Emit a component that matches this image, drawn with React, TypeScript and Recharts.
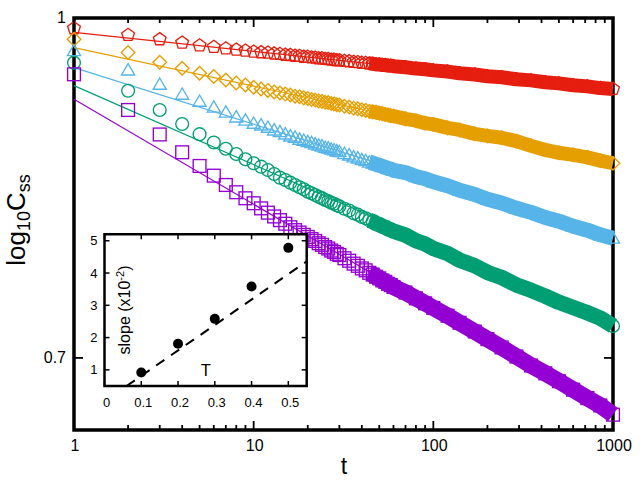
import {
  ComposedChart,
  Line,
  Scatter,
  XAxis,
  YAxis,
  ReferenceArea,
  CartesianGrid,
} from "recharts";

const FONT = '"Liberation Sans", Arial, Helvetica, sans-serif';

// sampling times t
const T = [
  1, 2, 3, 4, 5, 6, 7, 8, 9, 10, 11, 12, 13, 14, 15, 16, 17, 18, 19, 20, 21, 22, 23, 24, 25, 26, 27, 28,
  29, 30, 32, 34, 36, 38, 40, 42, 44, 46, 48, 50, 52, 54, 56, 58, 60, 70, 80, 90, 100, 120, 140, 170, 200,
  240, 290, 350, 420, 500, 600, 720, 850, 1000,
];

// log10 Css for each temperature, one value per entry of T
const LOG_C_T01 = [
  -0.00469, -0.00775, -0.0097, -0.01125, -0.01253, -0.01321, -0.0139, -0.01444, -0.0149, -0.01535,
  -0.01563, -0.01581, -0.01622, -0.0164, -0.01677, -0.0169, -0.01722, -0.01731, -0.01768, -0.01772,
  -0.018, -0.01809, -0.01841, -0.01841, -0.01868, -0.01873, -0.019, -0.019, -0.01927, -0.01927,
  -0.01959, -0.01973, -0.02005, -0.02014, -0.02046, -0.0205, -0.02078, -0.02087, -0.02114, -0.02119,
  -0.02141, -0.02146, -0.02173, -0.02173, -0.02196,
  -0.02246, -0.02305, -0.02337, -0.02387, -0.02442, -0.02519, -0.02574, -0.02652, -0.02702, -0.02793,
  -0.02843, -0.02929, -0.0298, -0.03066, -0.03116, -0.03194, -0.03235,
];
const LOG_C_T02 = [
  -0.0097, -0.01572, -0.02018, -0.02292, -0.0252, -0.02665, -0.02825, -0.02961, -0.03053, -0.03157,
  -0.03235, -0.03299, -0.03367, -0.03417, -0.03467, -0.03508, -0.03563, -0.0359, -0.0364, -0.03668,
  -0.03718, -0.03741, -0.03777, -0.038, -0.03841, -0.03854, -0.039, -0.03914, -0.0395, -0.03964,
  -0.04023, -0.04055, -0.0411, -0.04141, -0.04182, -0.0421, -0.04251, -0.04278, -0.04296, -0.04337,
  -0.04356, -0.04397, -0.04415, -0.04456, -0.04465,
  -0.04597, -0.04679, -0.04793, -0.04848, -0.05007, -0.05103, -0.0528, -0.05372, -0.05458, -0.05613,
  -0.05827, -0.06014, -0.06142, -0.06237, -0.06351, -0.06501, -0.0662,
];
const LOG_C_T03 = [
  -0.0149, -0.02369, -0.03021, -0.03476, -0.03795, -0.04064, -0.04292, -0.0451, -0.04656, -0.04798,
  -0.04875, -0.0498, -0.05103, -0.0518, -0.05285, -0.05376, -0.05435, -0.05526, -0.05572, -0.05636,
  -0.05677, -0.05741, -0.05795, -0.05832, -0.05891, -0.05923, -0.05978, -0.06005, -0.0606, -0.06087,
  -0.06178, -0.06242, -0.06328, -0.06378, -0.06456, -0.06497, -0.06565, -0.06606, -0.06675, -0.06706,
  -0.06766, -0.06798, -0.06861, -0.06889, -0.06939,
  -0.07044, -0.07221, -0.07326, -0.07467, -0.07645, -0.0785, -0.08041, -0.08256, -0.08429, -0.0867,
  -0.08857, -0.09089, -0.09258, -0.0949, -0.09668, -0.09882, -0.10032,
];
const LOG_C_T04 = [
  -0.02037, -0.03317, -0.04192, -0.04829, -0.05294, -0.05672, -0.05959, -0.06196, -0.06438, -0.0662,
  -0.06775, -0.06925, -0.07107, -0.07276, -0.07381, -0.07504, -0.07609, -0.07713, -0.07804, -0.07914,
  -0.07987, -0.08064, -0.08151, -0.0821, -0.08292, -0.08342, -0.0842, -0.08465, -0.08538, -0.08579,
  -0.08693, -0.08775, -0.08893, -0.08962, -0.09066, -0.09126, -0.09221, -0.09276, -0.09363, -0.09413,
  -0.0949, -0.09536, -0.09613, -0.09654, -0.09718,
  -0.09896, -0.10151, -0.10297, -0.10502, -0.10734, -0.11035, -0.1129, -0.11595, -0.11827, -0.12165,
  -0.12411, -0.12675, -0.12957, -0.1319, -0.13431, -0.13677, -0.14033,
];
const LOG_C_T05 = [
  -0.02565, -0.04192, -0.05308, -0.06119, -0.06743, -0.07185, -0.07609, -0.07941, -0.08215, -0.08442,
  -0.08675, -0.08871, -0.09044, -0.09212, -0.09376, -0.09536, -0.09668, -0.09777, -0.09882, -0.09978,
  -0.10078, -0.1016, -0.10265, -0.10338, -0.10438, -0.10506, -0.10597, -0.10661, -0.10748, -0.10802,
  -0.10948, -0.11062, -0.11194, -0.11294, -0.11413, -0.11499, -0.11613, -0.11691, -0.11791, -0.11864,
  -0.1196, -0.12023, -0.12114, -0.12174, -0.12256,
  -0.12511, -0.12775, -0.13003, -0.13212, -0.13568, -0.13891, -0.14288, -0.14634, -0.15012, -0.15427,
  -0.15837, -0.16192, -0.16552, -0.16939, -0.17322, -0.17659, -0.18078,
];

// power-law fits, log10 Css at t = 1 and t = 1000
const FIT_T = [1, 1000];
const FIT_T01 = [-0.00652, -0.03248];
const FIT_T02 = [-0.01353, -0.06615];
const FIT_T03 = [-0.02264, -0.09987];
const FIT_T04 = [-0.03084, -0.13882];
const FIT_T05 = [-0.03704, -0.18055];

// inset: fitted slope (x10^-2) against temperature
const INSET_T = [0.1, 0.2, 0.3, 0.4, 0.5];
const INSET_SLOPE = [0.92, 1.81, 2.58, 3.58, 4.78];
const INSET_FIT_T = [0.06, 0.55];
const INSET_FIT_SLOPE = [0.5, 4.36];

const X_TICKS = [
  1, 2, 3, 4, 5, 6, 7, 8, 9, 10, 20, 30, 40, 50, 60, 70, 80, 90, 100, 200, 300, 400, 500, 600, 700, 800,
  900, 1000,
];
const X_LABELS = [1, 10, 100, 1000];
const Y_TICKS = [0.7, 1];
const INSET_X_TICKS = [0, 0.1, 0.2, 0.3, 0.4, 0.5];
const INSET_Y_TICKS = [1, 2, 3, 4, 5];

type Kind = "pentagon" | "diamond" | "triangle" | "circle" | "square";

const SERIES: { id: string; logC: number[]; fit: number[]; color: string; kind: Kind; width: number }[] = [
  { id: "t01", logC: LOG_C_T01, fit: FIT_T01, color: "#e51e10", kind: "pentagon", width: 14 },
  { id: "t02", logC: LOG_C_T02, fit: FIT_T02, color: "#e69f00", kind: "diamond", width: 14 },
  { id: "t03", logC: LOG_C_T03, fit: FIT_T03, color: "#56b4e9", kind: "triangle", width: 15 },
  { id: "t04", logC: LOG_C_T04, fit: FIT_T04, color: "#009e73", kind: "circle", width: 15.5 },
  { id: "t05", logC: LOG_C_T05, fit: FIT_T05, color: "#9400d3", kind: "square", width: 16.5 },
];

const W = 640;
const H = 480;
// axes are 1px wide/tall so they still render; the plot spans x 74..613, y 18..430
const MARGIN = { top: 18, right: 27, bottom: 49, left: 73 };
const PLOT_W = 539;
const PLOT_H = 412;
// from here on the overlapping markers merge into a solid band
const BAND_FROM = 44;

const PENTAGON = [0, 1, 2, 3, 4].map((k) => {
  const a = ((-90 + 72 * k) * Math.PI) / 180;
  return [6.7 * Math.cos(a), 6.7 * Math.sin(a)];
});

function Marker({ cx, cy, kind, color }: { cx: number; cy: number; kind: Kind; color: string }) {
  const common = { fill: "none", stroke: color, strokeWidth: 1.35 };
  if (kind === "circle") return <circle cx={cx} cy={cy} r={6.4} {...common} />;
  if (kind === "square") return <rect x={cx - 6.4} y={cy - 6.4} width={12.8} height={12.8} {...common} />;
  let pts: number[][];
  if (kind === "diamond") pts = [[0, -6.8], [6.8, 0], [0, 6.8], [-6.8, 0]];
  else if (kind === "triangle") pts = [[0, -6.3], [6.6, 5], [-6.6, 5]];
  else pts = PENTAGON;
  return <polygon points={pts.map(([dx, dy]) => `${cx + dx},${cy + dy}`).join(" ")} {...common} />;
}

function XTick(props: any) {
  const { x, y, payload } = props;
  const v = payload.value;
  const major = X_LABELS.includes(v);
  const len = major ? 9 : 5;
  return (
    <g>
      <line x1={x} x2={x} y1={y} y2={y - len} stroke="#000" strokeWidth={1.8} />
      <line x1={x} x2={x} y1={y - PLOT_H} y2={y - PLOT_H + len} stroke="#000" strokeWidth={1.8} />
      {major && (
        <text x={x + 1} y={y + 21} textAnchor="middle" fontSize={16} fontFamily={FONT} fill="#000">
          {v}
        </text>
      )}
    </g>
  );
}

function YTick(props: any) {
  const { x, y, payload } = props;
  return (
    <g>
      <line x1={x} x2={x + 9} y1={y} y2={y} stroke="#000" strokeWidth={1.8} />
      <line x1={x + PLOT_W} x2={x + PLOT_W - 9} y1={y} y2={y} stroke="#000" strokeWidth={1.8} />
      <text x={x - 8} y={y + 5} textAnchor="end" fontSize={16} fontFamily={FONT} fill="#000">
        {payload.value}
      </text>
    </g>
  );
}

const XTitle = () => (
  <text x={344} y={474} textAnchor="middle" fontSize={23} fontFamily={FONT} fill="#000">
    t
  </text>
);

const YTitle = () => (
  <text
    transform="translate(25,220) rotate(-90)"
    textAnchor="middle"
    fontSize={26}
    fontFamily={FONT}
    fill="#000"
  >
    log
    <tspan fontSize={18} dy={5}>
      10
    </tspan>
    <tspan dy={-5}>C</tspan>
    <tspan fontSize={18} dy={5}>
      ss
    </tspan>
  </text>
);

// inset geometry, plot spans x 44.5..246.7, y 12.3..164 inside the inset box
const IN_W = 260;
const IN_H = 200;
const IN_MARGIN = { top: 12.3, right: 13.3, bottom: 35, left: 43.5 };
const IN_PLOT_W = 202.2;
const IN_PLOT_H = 151.7;

function InsetXTick(props: any) {
  const { x, y, payload } = props;
  return (
    <g>
      <line x1={x} x2={x} y1={y} y2={y - 5} stroke="#000" strokeWidth={1.5} />
      <line x1={x} x2={x} y1={y - IN_PLOT_H} y2={y - IN_PLOT_H + 5} stroke="#000" strokeWidth={1.5} />
      <text x={x + 2} y={y + 21} textAnchor="middle" fontSize={13} fontFamily={FONT} fill="#000">
        {payload.value}
      </text>
    </g>
  );
}

function InsetYTick(props: any) {
  const { x, y, payload } = props;
  return (
    <g>
      <line x1={x} x2={x + 5} y1={y} y2={y} stroke="#000" strokeWidth={1.5} />
      <line x1={x + IN_PLOT_W} x2={x + IN_PLOT_W - 5} y1={y} y2={y} stroke="#000" strokeWidth={1.5} />
      <text x={x - 7} y={y + 4.5} textAnchor="end" fontSize={13} fontFamily={FONT} fill="#000">
        {payload.value}
      </text>
    </g>
  );
}

const InsetYTitle = () => (
  <text
    transform="translate(70,88) rotate(-90)"
    textAnchor="middle"
    fontSize={16}
    fontFamily={FONT}
    fill="#000"
  >
    slope (x10
    <tspan fontSize={11} dy={-6}>
      -2
    </tspan>
    <tspan dy={6}>)</tspan>
  </text>
);

const InsetXTitle = () => (
  <text x={145.7} y={154} textAnchor="middle" fontSize={16.5} fontFamily={FONT} fill="#000">
    T
  </text>
);

function SlopeInset() {
  const pts = INSET_T.map((t, i) => ({ T: t, s: INSET_SLOPE[i] }));
  const fit = INSET_FIT_T.map((t, i) => ({ T: t, s: INSET_FIT_SLOPE[i] }));
  return (
    <div style={{ position: "absolute", left: 60, top: 222 }}>
      <ComposedChart width={IN_W} height={IN_H} margin={IN_MARGIN}>
        <CartesianGrid horizontal={false} vertical={false} fill="#fff" />
        <XAxis
          type="number"
          dataKey="T"
          domain={[0, 0.55]}
          ticks={INSET_X_TICKS}
          interval={0}
          height={1}
          tickSize={0}
          tickMargin={0}
          axisLine={false}
          tickLine={false}
          tick={<InsetXTick />}
          label={<InsetXTitle />}
        />
        <YAxis
          type="number"
          dataKey="s"
          domain={[0.5, 5.2]}
          ticks={INSET_Y_TICKS}
          interval={0}
          width={1}
          tickSize={0}
          tickMargin={0}
          axisLine={false}
          tickLine={false}
          tick={<InsetYTick />}
          label={<InsetYTitle />}
        />
        <Line
          data={fit}
          dataKey="s"
          stroke="#000"
          strokeWidth={2}
          strokeDasharray="10 8"
          dot={false}
          isAnimationActive={false}
        />
        <Scatter
          data={pts}
          fill="#000"
          shape={(p: any) => <circle cx={p.cx} cy={p.cy} r={5} fill="#000" />}
          isAnimationActive={false}
        />
        <ReferenceArea x1={0} x2={0.55} y1={0.5} y2={5.2} fill="none" stroke="#000" strokeWidth={2.5} />
      </ComposedChart>
    </div>
  );
}

export default function App() {
  const data = SERIES.map((s) => {
    const pts = T.map((t, i) => ({ t, c: Math.pow(10, s.logC[i]) }));
    return {
      ...s,
      pts,
      bandPts: pts.filter((p) => p.t >= BAND_FROM),
      fitPts: FIT_T.map((t, i) => ({ t, c: Math.pow(10, s.fit[i]) })),
    };
  });

  return (
    <div style={{ position: "absolute", left: 0, top: 0, width: W, height: H, background: "#fff" }}>
      <ComposedChart width={W} height={H} margin={MARGIN}>
        <XAxis
          type="number"
          dataKey="t"
          scale="log"
          domain={[1, 1000]}
          ticks={X_TICKS}
          interval={0}
          height={1}
          tickSize={0}
          tickMargin={0}
          axisLine={false}
          tickLine={false}
          tick={<XTick />}
          label={<XTitle />}
        />
        <YAxis
          type="number"
          dataKey="c"
          scale="log"
          domain={[0.649, 1]}
          ticks={Y_TICKS}
          interval={0}
          width={1}
          tickSize={0}
          tickMargin={0}
          axisLine={false}
          tickLine={false}
          tick={<YTick />}
          label={<YTitle />}
        />
        {data.map((s) => (
          <Line
            key={`fit-${s.id}`}
            data={s.fitPts}
            dataKey="c"
            stroke={s.color}
            strokeWidth={1.2}
            dot={false}
            isAnimationActive={false}
          />
        ))}
        {data.map((s) => (
          <Line
            key={`band-${s.id}`}
            data={s.bandPts}
            dataKey="c"
            stroke={s.color}
            strokeWidth={s.width}
            strokeLinejoin="round"
            dot={false}
            isAnimationActive={false}
          />
        ))}
        {data.map((s) => (
          <Scatter
            key={`pts-${s.id}`}
            data={s.pts}
            fill={s.color}
            shape={(p: any) => <Marker cx={p.cx} cy={p.cy} kind={s.kind} color={s.color} />}
            isAnimationActive={false}
          />
        ))}
        <ReferenceArea x1={1} x2={1000} y1={0.649} y2={1} fill="none" stroke="#000" strokeWidth={3.5} />
      </ComposedChart>
      <SlopeInset />
    </div>
  );
}
